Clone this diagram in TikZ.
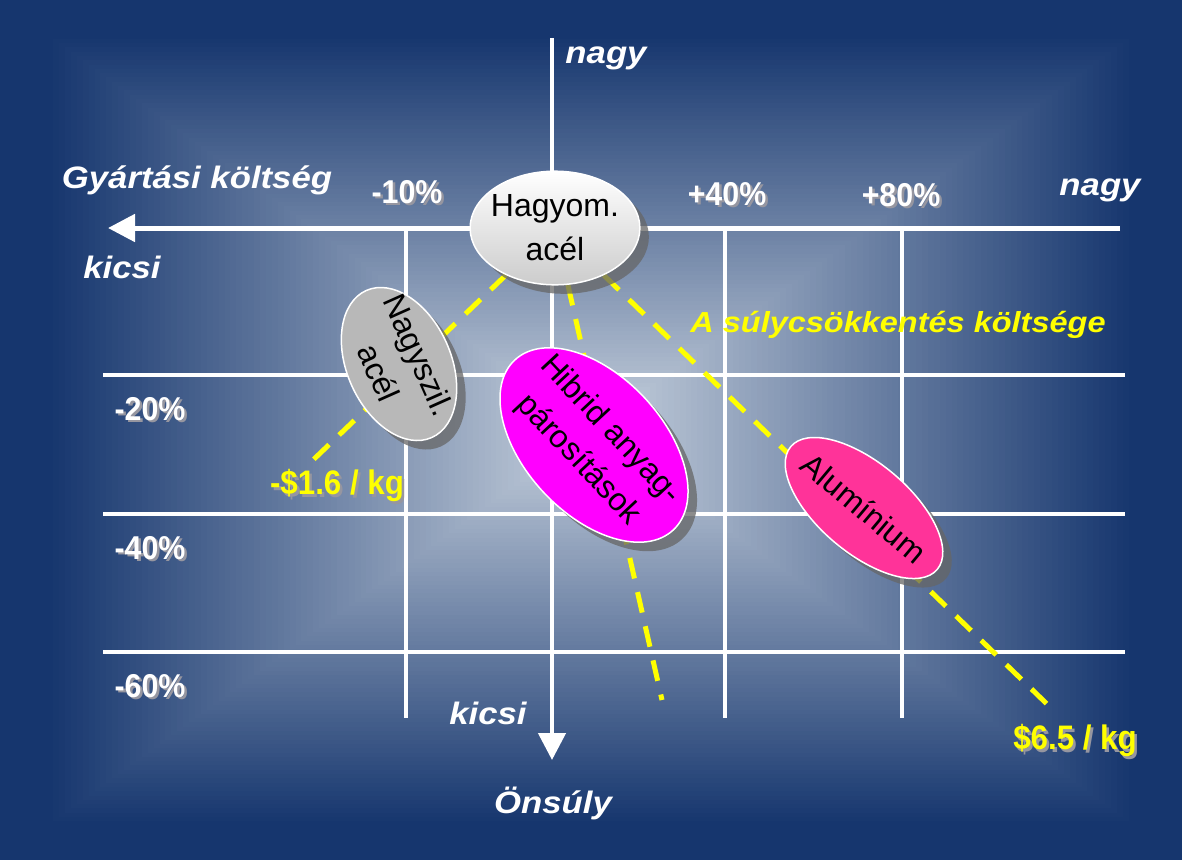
\documentclass[tikz,border=0pt]{standalone}
\usepackage{fontspec}
\setmainfont{Liberation Sans}
\newfontfamily\widefont[FakeStretch=1.12]{Liberation Sans}
\newfontfamily\narrowfont[FakeStretch=0.92]{Liberation Sans}
\usetikzlibrary{arrows.meta, shapes.geometric, shadows, positioning, calc}
\definecolor{navy}{RGB}{22,54,110}
\definecolor{glow}{RGB}{184,196,212}
\definecolor{steelgray}{RGB}{184,184,184}
\definecolor{hibridpink}{RGB}{255,0,255}
\definecolor{alupink}{RGB}{255,51,153}
\definecolor{costyellow}{RGB}{255,255,0}
\definecolor{txtshadow}{RGB}{150,150,160}
\pgfdeclarelayer{bg}
\pgfdeclarelayer{lines}
\pgfsetlayers{bg,lines,main}
\newcommand{\shtxt}[2]{\makebox[0pt][l]{\hspace{2.5pt}\raisebox{-2.5pt}{\textcolor{txtshadow}{#2}}}\textcolor{#1}{#2}}
\tikzset{
	gridline/.style={white, line width=3.5pt},
	axisline/.style={white, line width=5pt, -{Triangle[length=27pt, width=27pt]}},
	axislabel/.style={text=white, font=\widefont\bfseries\itshape\fontsize{31}{31}\selectfont},
	pct/.style={font=\narrowfont\bfseries\fontsize{33}{33}\selectfont},
	costlabel/.style={font=\narrowfont\bfseries\fontsize{34}{34}\selectfont},
	costline/.style={costyellow, line width=5pt, dash pattern=on 21pt off 14pt},
	material/.style={ellipse, draw=white, line width=1.5pt, align=center, text=black,
		font=\fontsize{32}{44}\selectfont,
		drop shadow={shadow xshift=9pt, shadow yshift=-9pt, fill=black!60, opacity=0.75}},
}

\begin{document}
\begin{tikzpicture}[x=1pt, y=-1pt]
			\useasboundingbox (0,0) rectangle (1182,860);
			\begin{pgfonlayer}{bg}
				\foreach \i in {0,...,100}{
					\pgfmathsetmacro{\r}{1-\i/100}
					\pgfmathsetmacro{\t}{max(0,min(100,100*(\r-0.08)/0.84))}
					\fill[navy!\t!glow] (591-591*\r,430-430*\r) rectangle (591+591*\r,430+430*\r);
				}
			\end{pgfonlayer}
			
			\node[material, top color=white, bottom color=gray!40, inner xsep=-4pt, inner ysep=7pt] (HAGYOM) at (555,228) {Hagyom.\\acél};
			\node[material, fill=steelgray, rotate=-66, inner xsep=-8pt, inner ysep=3pt] (NAGYSZIL) at (399,364) {Nagyszil.\\acél};
			\node[material, fill=hibridpink, rotate=-47, inner xsep=-13pt, inner ysep=12pt] (HIBRID) at (594,445) {Hibrid anyag-\\párosítások};
			\node[material, fill=alupink, rotate=-40, inner xsep=-8pt, inner ysep=20pt] (ALU) at (864,508) {Alumínium};
			
			\coordinate (XSTART) at (1120,228);
			\coordinate (XEND) at (108,228);
			\coordinate (YSTART) at (552,38);
			\coordinate (YEND) at (552,760);
			\coordinate (STEELEND) at (312,461);
			\coordinate (HIBRIDEND) at (662,700);
			\coordinate (ALUEND) at (1048,705);
			
			\node[axislabel] (NAGYTOP) at (606,58) {nagy};
			\node[axislabel] (NAGYRIGHT) at (1100,190) {nagy};
			\node[axislabel] (GYARTAS) at (197,180) {Gyártási költség};
			\node[axislabel] (KICSIX) at (122,267) {kicsi};
			\node[axislabel] (KICSIY) at (488,713) {kicsi};
			\node[axislabel] (ONSULY) at (553,803) {Önsúly};
			\node[pct] (M10) at (407,193) {\shtxt{white}{-10\%}};
			\node[pct] (P40) at (727,195) {\shtxt{white}{+40\%}};
			\node[pct] (P80) at (901,196) {\shtxt{white}{+80\%}};
			\node[pct] (M20) at (150,410) {\shtxt{white}{-20\%}};
			\node[pct] (M40) at (150,549) {\shtxt{white}{-40\%}};
			\node[pct] (M60) at (150,687) {\shtxt{white}{-60\%}};
			\node[axislabel, text=costyellow, font=\widefont\bfseries\itshape\fontsize{29}{29}\selectfont] (COST) at (898,325) {A súlycsökkentés költsége};
			\node[costlabel] (STEELCOST) at (337,487) {\shtxt{costyellow}{-\$1.6 / kg}};
			\node[costlabel] (ALUCOST) at (1075,742) {\shtxt{costyellow}{\$6.5 / kg}};
			
			\begin{pgfonlayer}{lines}
				\foreach \y in {375,514,652}
					\draw[gridline] (103,\y) -- (1125,\y);
				\foreach \x in {406,725,902}
					\draw[gridline] (\x,228) -- (\x,718);
				\draw[axisline] (XSTART) -- (XEND);
				\draw[axisline, line width=4.5pt] (YSTART) -- (YEND);
				\draw[costline] (HAGYOM) -- (STEELEND);
				\draw[costline] (HAGYOM) -- (HIBRIDEND);
				\draw[costline] (HAGYOM) -- (ALUEND);
			\end{pgfonlayer}
			
		\end{tikzpicture}
\end{document}
